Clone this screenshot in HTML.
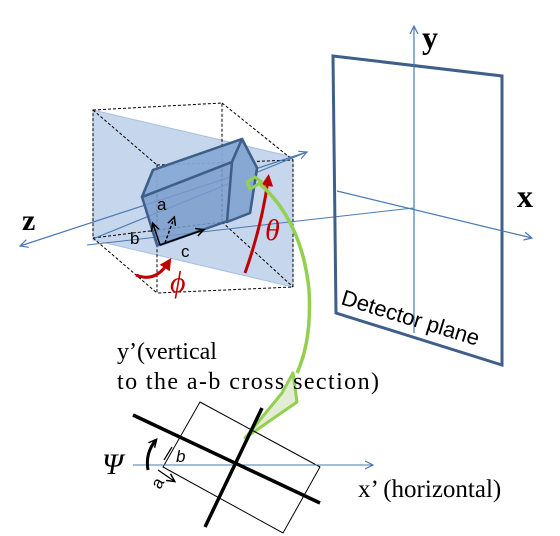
<!DOCTYPE html>
<html><head><meta charset="utf-8"><style>
body{margin:0;background:#fff}
svg{display:block}
.serif{font-family:"Liberation Serif",serif}
.sans{font-family:"Liberation Sans",sans-serif}
</style></head><body>
<svg width="560" height="536" viewBox="0 0 560 536">
<defs>
<marker id="ab" markerWidth="10" markerHeight="10" refX="8" refY="5" orient="auto" markerUnits="userSpaceOnUse"><path d="M0,1 L8,5 L0,9" fill="none" stroke="#4a7ab0" stroke-width="1.2"/></marker>
<marker id="ak" markerWidth="10" markerHeight="10" refX="7" refY="5" orient="auto" markerUnits="userSpaceOnUse"><path d="M0,1 L8,5 L0,9" fill="none" stroke="#000" stroke-width="1.5"/></marker>
<marker id="ar" markerWidth="12" markerHeight="12" refX="6" refY="6" orient="auto" markerUnits="userSpaceOnUse"><path d="M0,0 L12,6 L0,12 Z" fill="#c00000"/></marker>
</defs>
<polygon points="93,110 293,157 293,287 93,240" fill="#c6d6ec" stroke="#a8c0e0" stroke-width="1"/>
<g fill="none" stroke="#000" stroke-width="1" stroke-dasharray="3,2">
<polygon points="93,110 222,103 222,222 93,238"/>
<polygon points="157,165 293,160 293,287 157,293"/>
<line x1="93" y1="110" x2="157" y2="165"/><line x1="222" y1="103" x2="293" y2="160"/>
<line x1="222" y1="222" x2="293" y2="287"/><line x1="93" y1="238" x2="157" y2="293"/>
</g>
<line x1="307" y1="152" x2="20" y2="246" stroke="#4a7ab0" stroke-width="1.2" marker-end="url(#ab)"/>
<line x1="95" y1="238" x2="307" y2="152" stroke="#4a7ab0" stroke-width="1.2" marker-end="url(#ab)"/>
<line x1="87" y1="245" x2="413" y2="208" stroke="#4a7ab0" stroke-width="1"/>
<g stroke="#3e5f8a" stroke-width="2.5" stroke-linejoin="round">
<polygon points="142,197 153,170 242,139 257,168 250,213 160,245 157,245" fill="#7a9ccc" fill-opacity="0.85"/>
<polygon points="142,197 153,170 242,139 232,162" fill="#8fb0d8" fill-opacity="0.6"/>
<polygon points="232,162 242,139 257,168 250,213 227,222" fill="#88a8d4"/>
<line x1="142" y1="197" x2="232" y2="162"/>
</g>
<g stroke="#000" stroke-width="1.5" fill="none">
<line x1="160" y1="245" x2="203" y2="230" marker-end="url(#ak)"/>
<line x1="160" y1="245" x2="153" y2="224" marker-end="url(#ak)"/>
<line x1="165" y1="243" x2="174" y2="218" stroke-dasharray="3,2" marker-end="url(#ak)"/>
</g>
<text class="sans" x="157" y="210" font-size="17">a</text>
<text class="sans" x="130" y="244" font-size="17">b</text>
<text class="sans" x="181" y="257" font-size="17">c</text>
<path d="M245,273 Q262,225 268,180" fill="none" stroke="#c00000" stroke-width="3" marker-end="url(#ar)"/>
<path d="M136,275 Q155,283 168,263" fill="none" stroke="#c00000" stroke-width="3" marker-end="url(#ar)"/>
<text class="serif" x="265" y="240" font-size="30" font-style="italic" fill="#c00000">θ</text>
<text class="serif" x="170" y="292" font-size="30" font-style="italic" fill="#c00000">ϕ</text>
<text class="serif" x="22" y="230" font-size="30" font-weight="bold">z</text>
<polygon points="333,56 502,76 502,365 336,313" fill="none" stroke="#3e5f8a" stroke-width="3"/>
<line x1="414" y1="333" x2="414" y2="26" stroke="#4a7ab0" stroke-width="1.2" marker-end="url(#ab)"/>
<line x1="337" y1="191" x2="532" y2="238" stroke="#4a7ab0" stroke-width="1.2" marker-end="url(#ab)"/>
<text class="serif" x="422" y="48" font-size="32" font-weight="bold">y</text>
<text class="serif" x="517" y="207" font-size="32" font-weight="bold">x</text>
<text class="sans" font-size="22" transform="translate(340,304) rotate(17)">Detector plane</text>
<g fill="none" stroke="#92d050" stroke-width="3.5" stroke-linejoin="round">
<path d="M247,182 L255,177 L262,182 L250,189 Z" stroke-width="3"/>
<path d="M258,182 Q302,220 309,290 Q312,340 297,373"/>
<polygon points="293,373 297,402 245,438 282,393" fill="#e3ecd4" stroke-width="3"/>
</g>
<text class="serif" x="117" y="359" font-size="24">y’(vertical</text>
<text class="serif" x="117" y="389" font-size="24" textLength="262">to the  a-b cross section)</text>
<polygon points="200,402 320,467 283,533 163,467" fill="none" stroke="#000" stroke-width="1"/>
<line x1="133" y1="465" x2="373" y2="465" stroke="#4a7ab0" stroke-width="1" marker-end="url(#ab)"/>
<line x1="133" y1="415" x2="320" y2="503" stroke="#000" stroke-width="3.5"/>
<line x1="262" y1="408" x2="205" y2="527" stroke="#000" stroke-width="3.5"/>
<path d="M148,470 Q145,453 156,440" fill="none" stroke="#000" stroke-width="3" marker-end="url(#ak)"/>
<text class="serif" x="102" y="474" font-size="30" font-style="italic">Ψ</text>
<path d="M164,460 L172,447 M158,470 L174,481" fill="none" stroke="#000" stroke-width="1.2" marker-end="url(#ak)"/>
<text class="sans" x="176" y="462" font-size="17" font-style="italic">b</text>
<text class="sans" font-size="17" transform="translate(160,490) rotate(-60)">a</text>
<text class="serif" x="358" y="497" font-size="25">x’ (horizontal)</text>
</svg>
</body></html>
